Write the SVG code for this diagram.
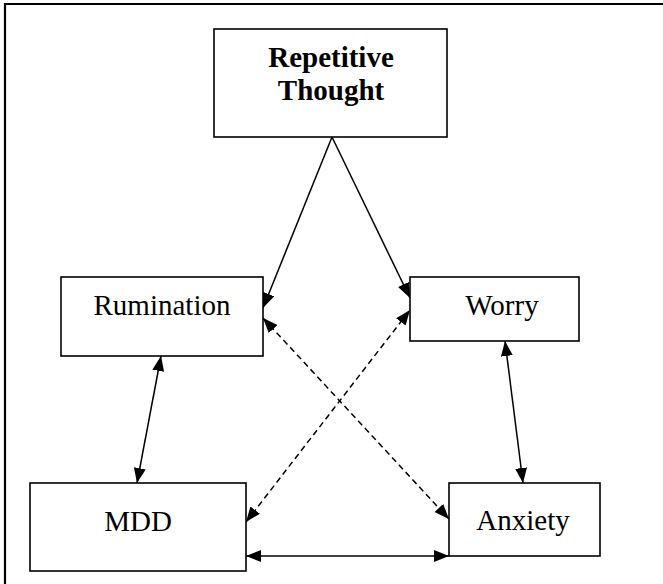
<svg xmlns="http://www.w3.org/2000/svg" width="663" height="584" viewBox="0 0 663 584">
<style>
.box{fill:#fff;stroke:#000;stroke-width:1.6}
.t{font-family:"Liberation Serif","Times New Roman",serif;font-size:29px;fill:#000;text-anchor:middle}
.b{font-weight:bold}
.c{fill:none;stroke:#000;stroke-width:1.5}
.d{stroke-dasharray:6 4}
</style>
<defs>
<marker id="ah" markerUnits="userSpaceOnUse" markerWidth="15" markerHeight="12" refX="15" refY="6" orient="auto-start-reverse" viewBox="0 0 15 12">
<path d="M0,0 L15,6 L0,12 z" fill="#000"/>
</marker>
</defs>
<rect width="663" height="584" fill="#fff"/>
<path d="M5,584 V4 H663" fill="none" stroke="#000" stroke-width="2.2"/>
<g id="connectors">
<line class="c" x1="332" y1="137" x2="263" y2="308" marker-end="url(#ah)"/>
<line class="c" x1="332" y1="137" x2="410" y2="298" marker-end="url(#ah)"/>
<line class="c" x1="161" y1="356" x2="137" y2="483" marker-start="url(#ah)" marker-end="url(#ah)"/>
<line class="c" x1="505" y1="341" x2="523" y2="483" marker-start="url(#ah)" marker-end="url(#ah)"/>
<line class="c" x1="246" y1="556" x2="449" y2="556" marker-start="url(#ah)" marker-end="url(#ah)"/>
<line class="c d" x1="263" y1="318" x2="449" y2="519" marker-start="url(#ah)" marker-end="url(#ah)"/>
<line class="c d" x1="246" y1="522" x2="410" y2="310" marker-start="url(#ah)" marker-end="url(#ah)"/>
</g>
<g id="repetitive-thought">
<rect class="box" x="214" y="29" width="233" height="108"/>
<text class="t b" x="331" y="67">Repetitive</text>
<text class="t b" x="331" y="100">Thought</text>
</g>
<g id="rumination">
<rect class="box" x="61" y="277" width="202" height="79"/>
<text class="t" x="162" y="315">Rumination</text>
</g>
<g id="worry">
<rect class="box" x="410" y="277" width="169" height="64"/>
<text class="t" x="502" y="315">Worry</text>
</g>
<g id="mdd">
<rect class="box" x="30" y="483" width="216" height="88"/>
<text class="t" x="138" y="531">MDD</text>
</g>
<g id="anxiety">
<rect class="box" x="449" y="483" width="151" height="73"/>
<text class="t" x="523" y="530">Anxiety</text>
</g>
</svg>
